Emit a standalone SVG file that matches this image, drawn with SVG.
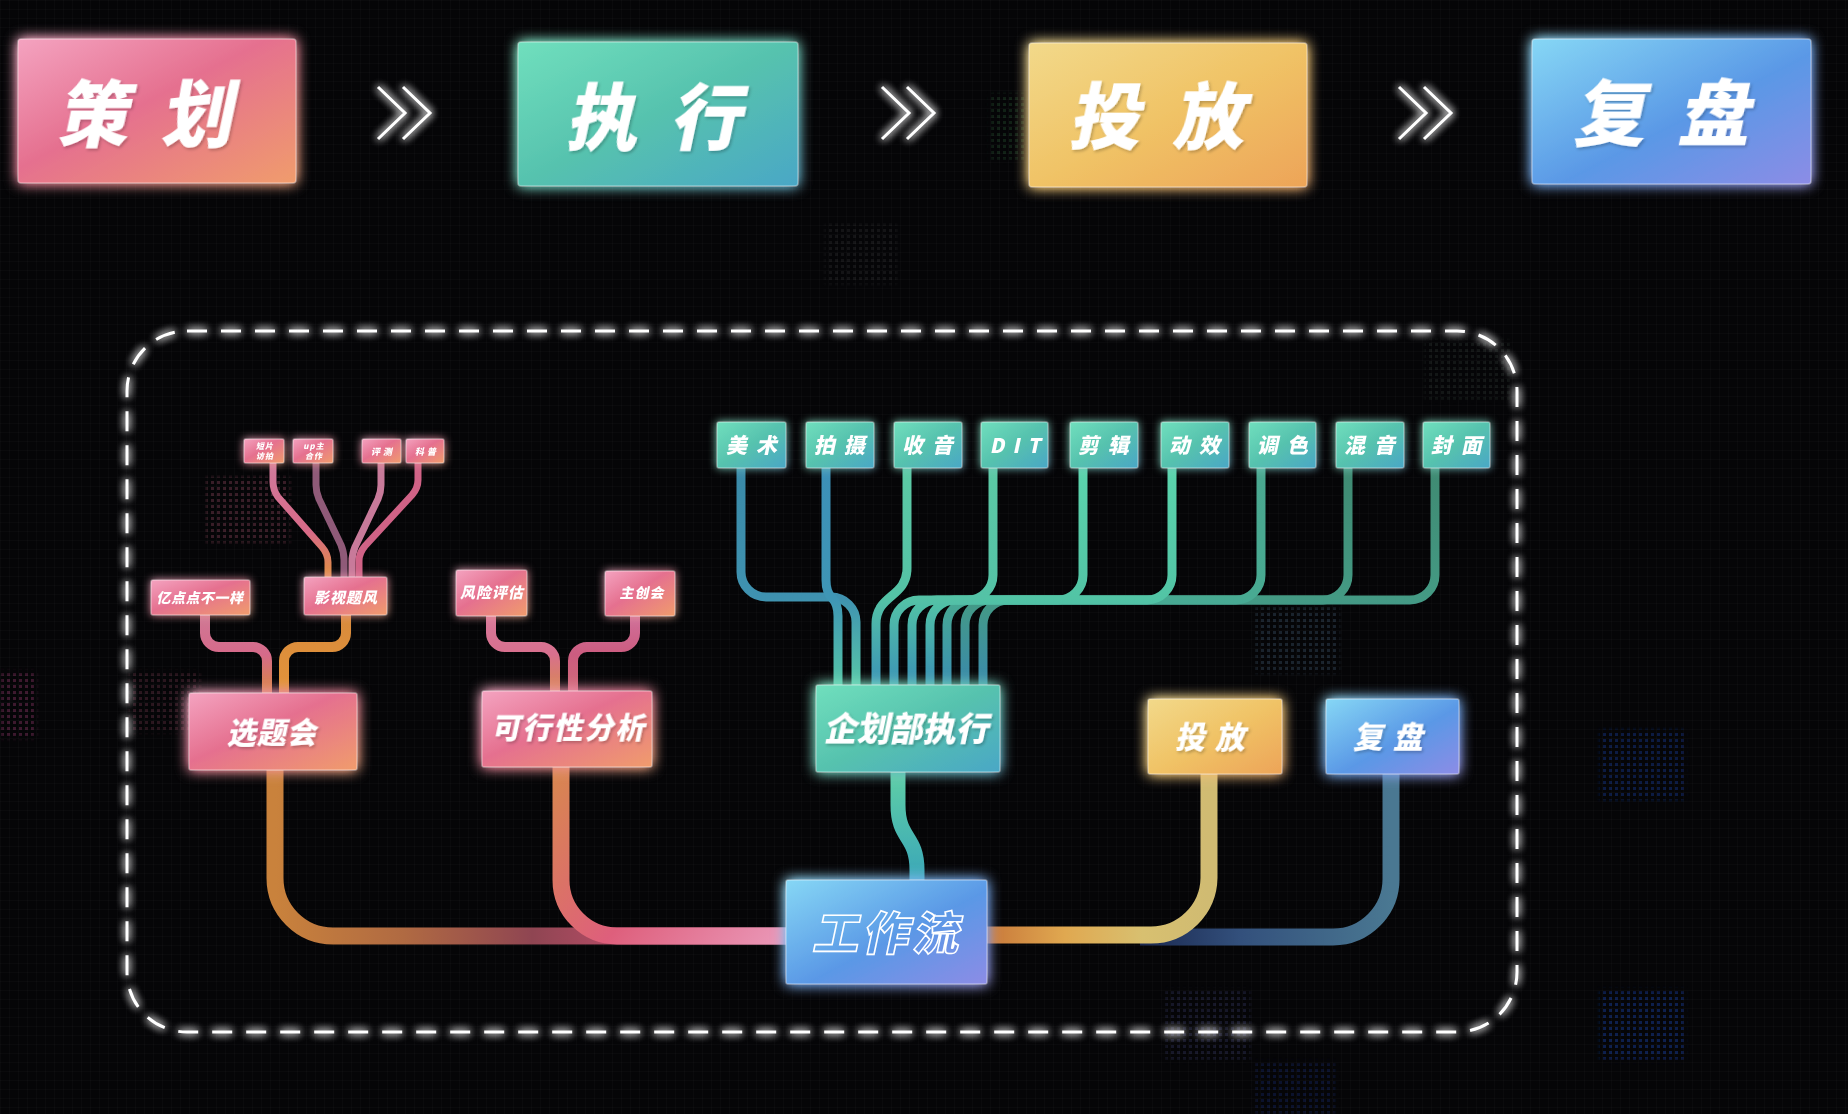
<svg xmlns="http://www.w3.org/2000/svg" width="1848" height="1114" viewBox="0 0 1848 1114">
<style>
.t{font-family:"Noto Sans CJK SC","Noto Sans",sans-serif;font-weight:900;fill:#fff;text-anchor:middle}
.box{stroke:#ffffff;stroke-opacity:.35;stroke-width:1.5}
.ln{fill:none;stroke-linecap:butt;stroke-linejoin:round}
.chev{fill:none;stroke:#fff;stroke-width:3;stroke-linejoin:miter}
</style>
<defs>
<linearGradient id="pinkBox" x1="0" y1="0" x2="1" y2="1"><stop offset="0" stop-color="#f4a3c0"/><stop offset=".45" stop-color="#e5708f"/><stop offset="1" stop-color="#f09c6c"/></linearGradient>
<linearGradient id="tealBox" x1="0" y1="0" x2="1" y2="1"><stop offset="0" stop-color="#70dfbd"/><stop offset=".5" stop-color="#56c2ae"/><stop offset="1" stop-color="#4aa7c6"/></linearGradient>
<linearGradient id="yellowBox" x1="0" y1="0" x2="1" y2="1"><stop offset="0" stop-color="#f2d98a"/><stop offset=".5" stop-color="#f0c366"/><stop offset="1" stop-color="#eda458"/></linearGradient>
<linearGradient id="blueBox" x1="0" y1="0" x2="1" y2="1"><stop offset="0" stop-color="#86d7f5"/><stop offset=".55" stop-color="#5a98e6"/><stop offset="1" stop-color="#8c8ce6"/></linearGradient>
<linearGradient id="gMain1" gradientUnits="userSpaceOnUse" x1="275" y1="0" x2="790" y2="0"><stop offset="0" stop-color="#c9823c"/><stop offset=".25" stop-color="#b06a42"/><stop offset=".5" stop-color="#8f4552"/><stop offset=".68" stop-color="#b84d68"/><stop offset=".85" stop-color="#d8708f"/><stop offset="1" stop-color="#e891b2"/></linearGradient>
<linearGradient id="gMain2" gradientUnits="userSpaceOnUse" x1="561" y1="767" x2="786" y2="936"><stop offset="0" stop-color="#d88650"/><stop offset=".5" stop-color="#de5f7c"/><stop offset="1" stop-color="#ea98b8"/></linearGradient>
<linearGradient id="gMain3" gradientUnits="userSpaceOnUse" x1="0" y1="772" x2="0" y2="881"><stop offset="0" stop-color="#5fcfa6"/><stop offset="1" stop-color="#3aa6b8"/></linearGradient>
<linearGradient id="gMain4" gradientUnits="userSpaceOnUse" x1="987" y1="0" x2="1209" y2="0"><stop offset="0" stop-color="#c8783a"/><stop offset=".35" stop-color="#e0a850"/><stop offset=".7" stop-color="#d8c070"/><stop offset="1" stop-color="#d0bb72"/></linearGradient>
<linearGradient id="gMain5" gradientUnits="userSpaceOnUse" x1="1140" y1="0" x2="1391" y2="0"><stop offset="0" stop-color="#1a2850"/><stop offset=".4" stop-color="#33507c"/><stop offset="1" stop-color="#4a7892"/></linearGradient>
<linearGradient id="gP1" gradientUnits="userSpaceOnUse" x1="0" y1="615" x2="0" y2="694"><stop offset="0" stop-color="#cf7895"/><stop offset=".5" stop-color="#d66a8a"/><stop offset="1" stop-color="#d8883f"/></linearGradient>
<linearGradient id="gP2" gradientUnits="userSpaceOnUse" x1="0" y1="615" x2="0" y2="694"><stop offset="0" stop-color="#d88a3c"/><stop offset="1" stop-color="#e3943a"/></linearGradient>
<linearGradient id="gP3" gradientUnits="userSpaceOnUse" x1="0" y1="616" x2="0" y2="692"><stop offset="0" stop-color="#d8789a"/><stop offset=".5" stop-color="#d8708e"/><stop offset="1" stop-color="#d88850"/></linearGradient>
<linearGradient id="gP4" gradientUnits="userSpaceOnUse" x1="0" y1="616" x2="0" y2="692"><stop offset="0" stop-color="#d0709a"/><stop offset=".5" stop-color="#cc5c80"/><stop offset="1" stop-color="#d06a78"/></linearGradient>
<linearGradient id="gS1" gradientUnits="userSpaceOnUse" x1="0" y1="463" x2="0" y2="578"><stop offset="0" stop-color="#d27a9c"/><stop offset=".6" stop-color="#d86a88"/><stop offset="1" stop-color="#e0903f"/></linearGradient>
<linearGradient id="gT1" gradientUnits="userSpaceOnUse" x1="0" y1="468" x2="0" y2="685"><stop offset="0" stop-color="#3a8aa8"/><stop offset=".6" stop-color="#3f92b0"/><stop offset="1" stop-color="#58c8a8"/></linearGradient>
<linearGradient id="gT2" gradientUnits="userSpaceOnUse" x1="0" y1="468" x2="0" y2="685"><stop offset="0" stop-color="#3c90b8"/><stop offset=".6" stop-color="#3f96b5"/><stop offset="1" stop-color="#55c4a6"/></linearGradient>
<linearGradient id="gT3" gradientUnits="userSpaceOnUse" x1="0" y1="468" x2="0" y2="685"><stop offset="0" stop-color="#5ccaa5"/><stop offset=".6" stop-color="#54c2a6"/><stop offset="1" stop-color="#3b93b6"/></linearGradient>
<linearGradient id="gT4" gradientUnits="userSpaceOnUse" x1="0" y1="468" x2="0" y2="685"><stop offset="0" stop-color="#5bd5ad"/><stop offset=".6" stop-color="#52c4a5"/><stop offset="1" stop-color="#3a90b4"/></linearGradient>
<linearGradient id="gT5" gradientUnits="userSpaceOnUse" x1="0" y1="468" x2="0" y2="685"><stop offset="0" stop-color="#4aa890"/><stop offset=".6" stop-color="#48aa92"/><stop offset="1" stop-color="#3a8eb0"/></linearGradient>
<linearGradient id="gT6" gradientUnits="userSpaceOnUse" x1="0" y1="468" x2="0" y2="685"><stop offset="0" stop-color="#3f8a72"/><stop offset=".6" stop-color="#449a84"/><stop offset="1" stop-color="#3a8aab"/></linearGradient>
<filter id="glow" x="-50%" y="-50%" width="200%" height="200%"><feGaussianBlur in="SourceGraphic" stdDeviation="7" result="b"/><feComponentTransfer in="b" result="b2"><feFuncA type="linear" slope="1.5"/></feComponentTransfer><feMerge><feMergeNode in="b2"/><feMergeNode in="SourceGraphic"/></feMerge></filter>
<filter id="glowS" x="-50%" y="-50%" width="200%" height="200%"><feGaussianBlur in="SourceGraphic" stdDeviation="4" result="b"/><feMerge><feMergeNode in="b"/><feMergeNode in="SourceGraphic"/></feMerge></filter>
<filter id="wglow" x="-20%" y="-20%" width="140%" height="140%"><feGaussianBlur in="SourceGraphic" stdDeviation="4" result="b"/><feMerge><feMergeNode in="b"/><feMergeNode in="b"/><feMergeNode in="SourceGraphic"/></feMerge></filter>
<filter id="tsh" x="-20%" y="-20%" width="140%" height="140%"><feDropShadow dx="2" dy="2" stdDeviation="1.5" flood-color="#000" flood-opacity=".22"/></filter>
<filter id="soft" x="-30%" y="-30%" width="160%" height="160%"><feGaussianBlur stdDeviation="2"/></filter>
<pattern id="grid" width="9" height="9" patternUnits="userSpaceOnUse"><path d="M9 0H0V9" fill="none" stroke="#ffffff" stroke-opacity=".035" stroke-width="1"/></pattern>
<pattern id="dotPat" width="6" height="6" patternUnits="userSpaceOnUse"><rect x="1" y="1" width="3" height="3" fill="#fff"/></pattern>
<mask id="dots" maskUnits="userSpaceOnUse" x="0" y="0" width="1848" height="1114"><rect width="1848" height="1114" fill="url(#dotPat)"/></mask>
</defs>
<rect width="1848" height="1114" fill="#050507"/>
<rect width="1848" height="1114" fill="url(#grid)"/>
<g id="decor" mask="url(#dots)" filter="url(#soft)">
<rect x="206" y="477" width="84" height="66" fill="#c0607a" opacity=".28"/>
<rect x="0" y="672" width="36" height="66" fill="#c04a8a" opacity=".3"/>
<rect x="130" y="672" width="70" height="60" fill="#b05070" opacity=".22"/>
<rect x="825" y="224" width="72" height="60" fill="#808080" opacity=".12"/>
<rect x="990" y="94" width="36" height="66" fill="#40a060" opacity=".18"/>
<rect x="1255" y="607" width="84" height="66" fill="#6080a0" opacity=".25"/>
<rect x="1600" y="730" width="85" height="70" fill="#2050d0" opacity=".3"/>
<rect x="1600" y="990" width="85" height="70" fill="#2050d0" opacity=".35"/>
<rect x="1165" y="990" width="85" height="70" fill="#5060a0" opacity=".22"/>
<rect x="1255" y="1062" width="80" height="52" fill="#2040a0" opacity=".25"/>
<rect x="1425" y="340" width="85" height="60" fill="#608070" opacity=".14"/>
</g>

<g id="chevrons" filter="url(#wglow)">
<path class="chev" d="M378 87L405 113L378 139M403 87L430 113L403 139"/>
<path class="chev" d="M882 87L909 113L882 139M907 87L934 113L907 139"/>
<path class="chev" d="M1399 87L1426 113L1399 139M1424 87L1451 113L1424 139"/>
</g>

<g id="frame" filter="url(#wglow)">
<rect x="127" y="331" width="1390" height="701" rx="60" ry="60" fill="none" stroke="#fff" stroke-width="3" stroke-dasharray="20 14"/>
</g>

<g id="connectors">
<path class="ln" d="M275 770V878A58 58 0 0 0 333 936H790" stroke="url(#gMain1)" stroke-width="17"/>
<path class="ln" d="M561 767V880A56 56 0 0 0 617 936H790" stroke="url(#gMain2)" stroke-width="17"/>
<path class="ln" d="M898 771V805C898 840 917 835 917 870V883" stroke="url(#gMain3)" stroke-width="15"/>
<path class="ln" d="M1391 773V878A58 58 0 0 1 1333 937H1140" stroke="url(#gMain5)" stroke-width="17"/>
<path class="ln" d="M1209 773V878A58 58 0 0 1 1151 935H983" stroke="url(#gMain4)" stroke-width="17"/>

<path class="ln" d="M205 614V633A14 14 0 0 0 219 647H253A14 14 0 0 1 267 661V695" stroke="url(#gP1)" stroke-width="10"/>
<path class="ln" d="M346 614V633A14 14 0 0 1 332 647H298A14 14 0 0 0 284 661V695" stroke="url(#gP2)" stroke-width="10"/>
<path class="ln" d="M491 615V633A14 14 0 0 0 505 647H541A14 14 0 0 1 555 661V693" stroke="url(#gP3)" stroke-width="10"/>
<path class="ln" d="M635 615V633A14 14 0 0 1 621 647H587A14 14 0 0 0 573 661V693" stroke="url(#gP4)" stroke-width="10"/>

<path class="ln" d="M273 462V482Q273 490 278 497L322 547Q328 554 328 562V579" stroke="url(#gS1)" stroke-width="7"/>
<path class="ln" d="M316 462V485Q316 492 319 499L341 545Q344 552 344 560V579" stroke="#8f5a78" stroke-width="7"/>
<path class="ln" d="M381 462V485Q381 492 378 499L355 547Q352 554 352 562V579" stroke="#c87a9a" stroke-width="7"/>
<path class="ln" d="M418 462V480Q418 488 412 495L365 546Q359 553 359 561V579" stroke="#d06286" stroke-width="7"/>

<path class="ln" d="M1435 467V575A25 25 0 0 1 1410 600H1008A25 25 0 0 0 983 625V686" stroke="url(#gT6)" stroke-width="9"/>
<path class="ln" d="M1348 467V575A25 25 0 0 1 1323 600H990A25 25 0 0 0 965 625V686" stroke="url(#gT6)" stroke-width="9"/>
<path class="ln" d="M1261 467V575A25 25 0 0 1 1236 600H972A25 25 0 0 0 947 625V686" stroke="url(#gT5)" stroke-width="9"/>
<path class="ln" d="M1172 467V575A25 25 0 0 1 1147 600H955A25 25 0 0 0 930 625V686" stroke="url(#gT4)" stroke-width="9"/>
<path class="ln" d="M1083 467V575A25 25 0 0 1 1058 600H937A25 25 0 0 0 912 625V686" stroke="url(#gT4)" stroke-width="9"/>
<path class="ln" d="M993 467V575A25 25 0 0 1 968 600H919A25 25 0 0 0 894 625V686" stroke="url(#gT3)" stroke-width="9"/>
<path class="ln" d="M907 467V568C907 598 876 594 876 624V686" stroke="url(#gT3)" stroke-width="9"/>
<path class="ln" d="M741 467V572A25 25 0 0 0 766 597H831A25 25 0 0 1 856 622V686" stroke="url(#gT1)" stroke-width="9"/>
<path class="ln" d="M826 467V580Q826 592 832 598Q838 604 838 616V686" stroke="url(#gT2)" stroke-width="9"/>
</g>

<g id="n-cehua"><rect class="box" x="18" y="39" width="278" height="144" rx="3" fill="url(#pinkBox)" filter="url(#glow)"/><text class="t" filter="url(#tsh)" font-size="72" letter-spacing="32" transform="translate(160 141) skewX(-12)">策划</text></g>
<g id="n-zhixing"><rect class="box" x="518" y="42" width="280" height="144" rx="3" fill="url(#tealBox)" filter="url(#glow)"/><text class="t" filter="url(#tsh)" font-size="72" letter-spacing="32" transform="translate(669 144) skewX(-12)">执行</text></g>
<g id="n-toufang"><rect class="box" x="1029" y="43" width="278" height="144" rx="3" fill="url(#yellowBox)" filter="url(#glow)"/><text class="t" filter="url(#tsh)" font-size="72" letter-spacing="32" transform="translate(1172 143) skewX(-12)">投放</text></g>
<g id="n-fupan"><rect class="box" x="1532" y="39" width="279" height="145" rx="3" fill="url(#blueBox)" filter="url(#glow)"/><text class="t" filter="url(#tsh)" font-size="72" letter-spacing="32" transform="translate(1677 140) skewX(-12)">复盘</text></g>

<g id="n-duanpian"><rect class="box" x="244" y="439" width="40" height="24" rx="1.5" fill="url(#pinkBox)" filter="url(#glowS)"/><text class="t" font-size="8" letter-spacing="1" transform="translate(265 449) skewX(-12)">短片</text><text class="t" font-size="8" letter-spacing="1" transform="translate(265 459) skewX(-12)">访拍</text></g>
<g id="n-upzhu"><rect class="box" x="293" y="439" width="40" height="24" rx="1.5" fill="url(#pinkBox)" filter="url(#glowS)"/><text class="t" font-size="8" letter-spacing="1" transform="translate(314 449) skewX(-12)">up主</text><text class="t" font-size="8" letter-spacing="1" transform="translate(314 459) skewX(-12)">合作</text></g>
<g id="n-pingce"><rect class="box" x="362" y="439" width="39" height="24" rx="1.5" fill="url(#pinkBox)" filter="url(#glowS)"/><text class="t" font-size="9" letter-spacing="3" transform="translate(383 455) skewX(-12)">评测</text></g>
<g id="n-kepu"><rect class="box" x="406" y="439" width="38" height="24" rx="1.5" fill="url(#pinkBox)" filter="url(#glowS)"/><text class="t" font-size="9" letter-spacing="3" transform="translate(427 455) skewX(-12)">科普</text></g>

<g id="n-yidian"><rect class="box" x="151" y="580" width="99" height="35" rx="2" fill="url(#pinkBox)" filter="url(#glowS)"/><text class="t" font-size="14" letter-spacing=".5" transform="translate(200 603) skewX(-12)">亿点点不一样</text></g>
<g id="n-yingshi"><rect class="box" x="304" y="577" width="83" height="38" rx="2" fill="url(#pinkBox)" filter="url(#glowS)"/><text class="t" font-size="15" letter-spacing="1" transform="translate(346 603) skewX(-12)">影视题风</text></g>
<g id="n-fengxian"><rect class="box" x="456" y="570" width="71" height="46" rx="2" fill="url(#pinkBox)" filter="url(#glowS)"/><text class="t" font-size="15" letter-spacing="1" transform="translate(492 598) skewX(-12)">风险评估</text></g>
<g id="n-zhuchuang"><rect class="box" x="605" y="571" width="70" height="45" rx="2" fill="url(#pinkBox)" filter="url(#glowS)"/><text class="t" font-size="14" letter-spacing="1" transform="translate(642 598) skewX(-12)">主创会</text></g>

<g id="n-xuanti"><rect class="box" x="189" y="693" width="168" height="77" rx="2" fill="url(#pinkBox)" filter="url(#glow)"/><text class="t" filter="url(#tsh)" font-size="29" letter-spacing="1" transform="translate(272 743) skewX(-12)">选题会</text></g>
<g id="n-kexing"><rect class="box" x="482" y="691" width="170" height="76" rx="2" fill="url(#pinkBox)" filter="url(#glow)"/><text class="t" filter="url(#tsh)" font-size="29" letter-spacing="2" transform="translate(569 738) skewX(-12)">可行性分析</text></g>
<g id="n-qihua"><rect class="box" x="816" y="685" width="184" height="87" rx="2" fill="url(#tealBox)" filter="url(#glow)"/><text class="t" filter="url(#tsh)" font-size="33" letter-spacing="0" transform="translate(906 741) skewX(-12)">企划部执行</text></g>
<g id="n-toufang2"><rect class="box" x="1148" y="699" width="134" height="75" rx="2" fill="url(#yellowBox)" filter="url(#glow)"/><text class="t" filter="url(#tsh)" font-size="30" letter-spacing="10" transform="translate(1215 748) skewX(-12)">投放</text></g>
<g id="n-fupan2"><rect class="box" x="1326" y="699" width="133" height="75" rx="2" fill="url(#blueBox)" filter="url(#glow)"/><text class="t" filter="url(#tsh)" font-size="30" letter-spacing="10" transform="translate(1393 748) skewX(-12)">复盘</text></g>
<g id="n-gongzuoliu"><rect class="box" x="786" y="880" width="201" height="104" rx="2" fill="url(#blueBox)" filter="url(#glow)"/><text class="t" font-size="46" letter-spacing="4" style="fill:none;stroke:#fff;stroke-width:1.6" transform="translate(887 950) skewX(-12)">工作流</text></g>

<g id="n-meishu"><rect class="box" x="717" y="422" width="69" height="46" rx="2" fill="url(#tealBox)" filter="url(#glowS)"/><text class="t" font-size="21" letter-spacing="9" transform="translate(756 453) skewX(-12)">美术</text></g>
<g id="n-paishe"><rect class="box" x="806" y="422" width="68" height="46" rx="2" fill="url(#tealBox)" filter="url(#glowS)"/><text class="t" font-size="21" letter-spacing="9" transform="translate(844 453) skewX(-12)">拍摄</text></g>
<g id="n-shouyin"><rect class="box" x="894" y="422" width="68" height="46" rx="2" fill="url(#tealBox)" filter="url(#glowS)"/><text class="t" font-size="21" letter-spacing="9" transform="translate(932 453) skewX(-12)">收音</text></g>
<g id="n-dit"><rect class="box" x="981" y="422" width="67" height="46" rx="2" fill="url(#tealBox)" filter="url(#glowS)"/><text class="t" font-size="20" letter-spacing="8" transform="translate(1019 453) skewX(-12)">DIT</text></g>
<g id="n-jianji"><rect class="box" x="1070" y="422" width="68" height="46" rx="2" fill="url(#tealBox)" filter="url(#glowS)"/><text class="t" font-size="21" letter-spacing="9" transform="translate(1108 453) skewX(-12)">剪辑</text></g>
<g id="n-dongxiao"><rect class="box" x="1161" y="422" width="68" height="46" rx="2" fill="url(#tealBox)" filter="url(#glowS)"/><text class="t" font-size="21" letter-spacing="9" transform="translate(1199 453) skewX(-12)">动效</text></g>
<g id="n-tiaose"><rect class="box" x="1249" y="422" width="67" height="46" rx="2" fill="url(#tealBox)" filter="url(#glowS)"/><text class="t" font-size="21" letter-spacing="9" transform="translate(1287 453) skewX(-12)">调色</text></g>
<g id="n-hunyin"><rect class="box" x="1336" y="422" width="68" height="46" rx="2" fill="url(#tealBox)" filter="url(#glowS)"/><text class="t" font-size="21" letter-spacing="9" transform="translate(1374 453) skewX(-12)">混音</text></g>
<g id="n-fengmian"><rect class="box" x="1423" y="422" width="67" height="46" rx="2" fill="url(#tealBox)" filter="url(#glowS)"/><text class="t" font-size="21" letter-spacing="9" transform="translate(1461 453) skewX(-12)">封面</text></g>
</svg>
